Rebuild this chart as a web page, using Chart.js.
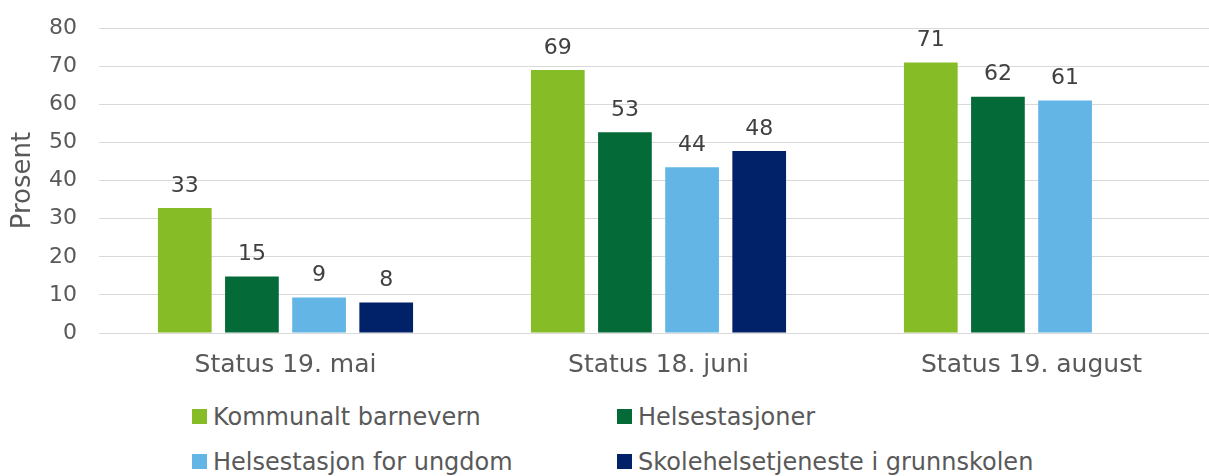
<!DOCTYPE html>
<html>
<head>
<meta charset="utf-8">
<script src="https://cdn.jsdelivr.net/npm/chart.js@4.4.0/dist/chart.umd.min.js"></script>
<style>
  html, body { margin: 0; padding: 0; background: #fff; overflow: hidden; }
  #wrap { position: relative; width: 1218px; height: 476px; }
  #box { position: absolute; left: 0; top: -7px; width: 1218px; height: 396px; }
  .leg { position: absolute; font-family: "DejaVu Sans", sans-serif;
         font-size: 24px; color: #595959; white-space: nowrap; line-height: 28px; }
  .leg span { display: inline-block; width: 15px; height: 15px; margin-right: 6px; vertical-align: 1px; }
</style>
</head>
<body>
<div id="wrap">
  <div id="box"><canvas id="myChart"></canvas></div>
  <div id="legend"></div>
</div>
<script>
const categories = ['Status 19. mai', 'Status 18. juni', 'Status 19. august'];
const seriesNames = ['Kommunalt barnevern', 'Helsestasjoner', 'Helsestasjon for ungdom', 'Skolehelsetjeneste i grunnskolen'];
const barnevern = [32.8, 69, 71];
const helsestasjoner = [14.8, 52.7, 62];
const ungdom = [9.3, 43.5, 61];
const skole = [8, 47.8, null];
const colors = ['#86BC25', '#046A38', '#62B5E5', '#012169'];
const yTicks = [0, 10, 20, 30, 40, 50, 60, 70, 80];

const font = "DejaVu Sans";

// draws the rounded value above each bar
const valueLabels = {
  id: 'valueLabels',
  afterDatasetsDraw(chart) {
    const c = chart.ctx;
    c.save();
    c.font = '22px "' + font + '"';
    c.fillStyle = '#404040';
    c.textAlign = 'center';
    c.textBaseline = 'bottom';
    chart.data.datasets.forEach((ds, i) => {
      chart.getDatasetMeta(i).data.forEach((el, j) => {
        if (ds.data[j] == null) return;
        c.fillText(Math.round(ds.data[j]), el.x, el.y - 11);
      });
    });
    c.restore();
  }
};

const ctx = document.getElementById('myChart').getContext('2d');
const allData = [barnevern, helsestasjoner, ungdom, skole];

const myChart = new Chart(ctx, {
  type: 'bar',
  data: {
    labels: categories,
    datasets: seriesNames.map((name, i) => ({
      label: name,
      data: allData[i],
      backgroundColor: colors[i],
      barPercentage: 0.8,
      categoryPercentage: 0.72
    }))
  },
  options: {
    responsive: true,
    maintainAspectRatio: false,
    animation: false,
    layout: { padding: { top: 4, right: 0, left: 0, bottom: 0 } },
    plugins: {
      legend: { display: false },
      tooltip: { enabled: false }
    },
    scales: {
      x: {
        grid: { display: false },
        border: { color: '#d9d9d9', width: 1 },
        ticks: { color: '#595959', font: { family: font, size: 25 }, padding: 9 }
      },
      y: {
        min: 0,
        max: 80,
        afterBuildTicks: (scale) => { scale.ticks = yTicks.map(v => ({ value: v })); },
        afterFit: (scale) => { scale.width = 99; },
        grid: { color: '#d9d9d9', lineWidth: 1, drawTicks: false },
        border: { display: false },
        ticks: { color: '#595959', font: { family: font, size: 22 }, padding: 22 },
        title: { display: true, text: 'Prosent', color: '#595959', font: { family: font, size: 26 }, padding: { top: 8, bottom: 0 } }
      }
    }
  },
  plugins: [valueLabels]
});

// legend laid out in two rows, two columns
const legendPos = [[192, 403], [617, 403], [192, 448], [617, 448]];
const legendEl = document.getElementById('legend');
seriesNames.forEach((name, i) => {
  const d = document.createElement('div');
  d.className = 'leg';
  d.style.left = legendPos[i][0] + 'px';
  d.style.top = legendPos[i][1] + 'px';
  d.innerHTML = '<span style="background:' + colors[i] + '"></span>' + name;
  legendEl.appendChild(d);
});
</script>
</body>
</html>
